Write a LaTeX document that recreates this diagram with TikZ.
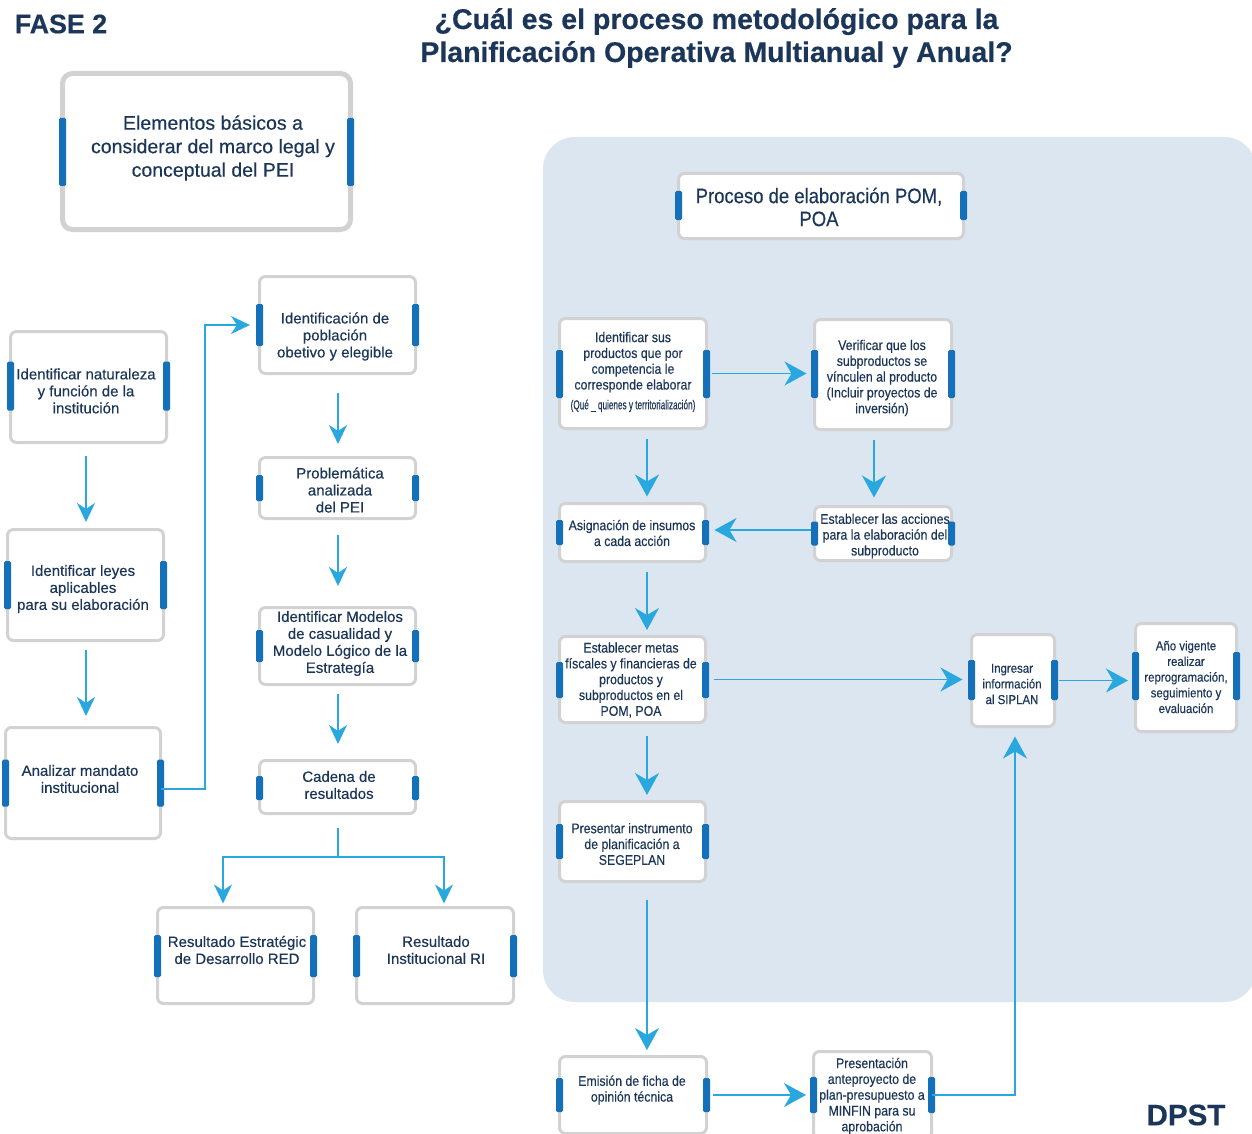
\documentclass[tikz,border=0pt]{standalone}
\usepackage{fontspec}
\setmainfont{Liberation Sans}[FakeBold=0.35]
\newfontfamily\cond{Liberation Sans}[FakeStretch=0.88,FakeBold=0.35]
\newfontfamily\vcond{Liberation Sans}[FakeStretch=0.63,FakeBold=0.3]
\usetikzlibrary{arrows.meta,calc}
\definecolor{navy}{HTML}{1C365A}
\definecolor{barblue}{HTML}{1570BA}
\definecolor{arrowc}{HTML}{29A8E0}
\definecolor{boxgray}{HTML}{D2D2D2}
\definecolor{panel}{HTML}{DCE6F0}
\newcommand\fsz[2]{\fontsize{#1}{#2}\selectfont}
% left x, right x, y centre, half height
\newcommand\bars[4]{%
  \fill[bar] (#1-3.5,#3-#4) rectangle (#1+3.5,#3+#4);
  \fill[bar] (#2-3.5,#3-#4) rectangle (#2+3.5,#3+#4);}
\begin{document}
\begin{tikzpicture}[x=1pt,y=-1pt,
  box/.style={draw=boxgray, line width=3pt, rounded corners=6pt, fill=white, inner sep=0pt, outer sep=0pt},
  bar/.style={fill=barblue, rounded corners=1.5pt},
  txt/.style={text=navy, align=center, inner sep=0pt},
  lt/.style={txt, font=\fsz{15}{17}},
  rt/.style={txt, font=\cond\fsz{14}{15.8}},
  arrR/.style={draw=arrowc, line width=1.8pt, -{Stealth[length=22pt,width=24pt,inset=7pt]}},
  arrL/.style={draw=arrowc, line width=1.8pt, -{Stealth[length=19pt,width=18pt,inset=6pt]}},
  conn/.style={draw=arrowc, line width=1.8pt}]
\useasboundingbox (0,0) rectangle (1252,1134);
\fill[white] (0,0) rectangle (1252,1134);

% titles
\node[txt, font=\bfseries\fsz{26.8}{30}] (fase) at (61,24) {FASE 2};
\node[txt, font=\bfseries\fsz{28.5}{33}] (title) at (716.5,38) {¿Cuál es el proceso metodológico para la\\Planificación Operativa Multianual y Anual?};
\node[txt, font=\bfseries\fsz{29.6}{32}] (dpst) at (1186,1115) {DPST};

% panel
\fill[panel, rounded corners=32pt] (543,137) rectangle (1256,1002);

% ---------- left part ----------
\node[box, line width=5pt, rounded corners=10pt, minimum width=288pt, minimum height=156pt] (elem) at (206.5,151.5) {};
\bars{62.5}{350.5}{152}{34}
\node[txt, font=\fsz{19.5}{23.5}] (elemt) at (213,148) {Elementos básicos a\\considerar del marco legal y\\conceptual del PEI};

\node[box, minimum width=156pt, minimum height=111pt] (nat) at (88.5,387) {};
\bars{10.5}{166.5}{386}{24.5}
\node[lt] (natt) at (86,391) {Identificar naturaleza\\y función de la\\institución};

\node[box, minimum width=156pt, minimum height=111pt] (ley) at (85.5,585) {};
\bars{7.5}{163.5}{585}{24}
\node[lt] (leyt) at (83,589) {Identificar leyes\\aplicables\\para su elaboración};

\node[box, minimum width=155pt, minimum height=111pt] (ana) at (83,783) {};
\bars{5.5}{160.5}{783}{23.5}
\node[lt] (anat) at (80,779) {Analizar mandato\\institucional};

\node[box, minimum width=156pt, minimum height=97pt] (pob) at (337.5,325) {};
\bars{259.5}{415.5}{325}{21}
\node[lt] (pobt) at (335,336.5) {Identificación de\\población\\obetivo y elegible};

\node[box, minimum width=156pt, minimum height=61pt] (prob) at (337.5,488) {};
\bars{259.5}{415.5}{488}{13}
\node[lt] (probt) at (340,490) {Problemática\\analizada\\del PEI};

\node[box, minimum width=156pt, minimum height=77pt] (mod) at (337.5,646) {};
\bars{259.5}{415.5}{646}{16}
\node[lt] (modt) at (340,643.5) {Identificar Modelos\\de casualidad y\\Modelo Lógico de la\\Estrategía};

\node[box, minimum width=156pt, minimum height=53pt] (cad) at (337.5,787) {};
\bars{259.5}{415.5}{788}{12}
\node[lt] (cadt) at (339,785) {Cadena de\\resultados};

\node[box, minimum width=156pt, minimum height=96pt] (red) at (235.5,955.5) {};
\bars{157.5}{313.5}{956}{21}
\node[lt] (redt) at (237,950) {Resultado Estratégic\\de Desarrollo RED};

\node[box, minimum width=157pt, minimum height=96pt] (ri) at (435,955.5) {};
\bars{356.5}{513.5}{956}{21}
\node[lt] (rit) at (436,950) {Resultado\\Institucional RI};

% left connectors
\draw[arrL, shorten <=13.5pt, shorten >=7.5pt] ([xshift=-2.5pt]nat.south) -- ([xshift=0.5pt]ley.north);
\draw[arrL, shorten <=9.5pt, shorten >=11.5pt] ([xshift=0.5pt]ley.south) -- ([xshift=3pt]ana.north);
\draw[arrL, shorten >=9.5pt] ([yshift=-6pt]ana.east) -| ([xshift=-54.5pt]pob.west) -- (pob.west);
\draw[arrL, shorten <=19.5pt, shorten >=13.5pt] ([xshift=0.5pt]pob.south) -- ([xshift=0.5pt]prob.north);
\draw[arrL, shorten <=16.5pt, shorten >=21.5pt] ([xshift=0.5pt]prob.south) -- ([xshift=0.5pt]mod.north);
\draw[arrL, shorten <=9.5pt, shorten >=16.5pt] ([xshift=0.5pt]mod.south) -- ([xshift=0.5pt]cad.north);
\coordinate (split) at (338,857);
\draw[conn, shorten <=14pt] ([xshift=0.5pt]cad.south) -- (split);
\draw[arrL, shorten >=4pt] (split) -| ([xshift=-12.5pt]red.north);
\draw[arrL, shorten >=4pt] (split) -| ([xshift=9pt]ri.north);

% ---------- right part ----------
\node[box, minimum width=285pt, minimum height=65pt] (pom) at (821,206) {};
\bars{678.5}{963.5}{205.5}{14.5}
\node[txt, font=\cond\fsz{21}{23}] (pomt) at (819,207) {Proceso de elaboración POM,\\POA};

\node[box, minimum width=147pt, minimum height=110pt] (prod) at (633,373.5) {};
\bars{559.5}{706.5}{374}{24}
\node[rt] (prodt) at (633,372) {Identificar sus\\productos que por\\competencia le\\corresponde elaborar\\[4pt]{\vcond\fsz{13}{14}(Qué \_ quienes y territorialización)}};

\node[box, minimum width=137pt, minimum height=110pt] (ver) at (883,374.5) {};
\bars{814.5}{951.5}{374}{24}
\node[rt] (vert) at (882,378) {Verificar que los\\subproductos se\\vínculen al producto\\(Incluir proyectos de\\inversión)};

\node[box, minimum width=146pt, minimum height=58pt] (asig) at (632.5,532.5) {};
\bars{559.5}{705.5}{532.5}{12.5}
\node[rt] (asigt) at (632,533) {Asignación de insumos\\a cada acción};

\node[box, minimum width=137pt, minimum height=54pt] (acc) at (883,533.5) {};
\bars{814.5}{951.5}{533.5}{12}
\node[rt] (acct) at (885,536) {Establecer las acciones\\para la elaboración del\\subproducto};

\node[box, minimum width=146pt, minimum height=86pt] (metas) at (632.5,679.5) {};
\bars{559.5}{705.5}{680}{18}
\node[rt] (metast) at (631,680) {Establecer metas\\físcales y financieras de\\productos y\\subproductos en el\\POM, POA};

\node[box, minimum width=146pt, minimum height=80pt] (pres) at (632.5,841.5) {};
\bars{559.5}{705.5}{841.5}{17.5}
\node[rt] (prest) at (632,844) {Presentar instrumento\\de planificación a\\SEGEPLAN};

\node[box, minimum width=83pt, minimum height=92pt] (ing) at (1013,680.5) {};
\bars{971.5}{1054.5}{680}{20}
\node[rt, font=\cond\fsz{13}{15.7}] (ingt) at (1012,684) {Ingresar\\información\\al SIPLAN};

\node[box, minimum width=101pt, minimum height=108pt] (ano) at (1186,677.5) {};
\bars{1135.5}{1236.5}{676}{24}
\node[rt, font=\cond\fsz{13}{15.7}] (anot) at (1186,677) {Año vigente\\realizar\\reprogramación,\\seguimiento y\\evaluación};

\node[box, minimum width=147pt, minimum height=77pt] (emi) at (633,1095) {};
\bars{559.5}{706.5}{1095}{17}
\node[rt] (emit) at (632,1090) {Emisión de ficha de\\opinión técnica};

\node[box, minimum width=118pt, minimum height=87pt] (ant) at (872.5,1095) {};
\bars{813.5}{931.5}{1095}{18}
\node[rt] (antt) at (872,1096) {Presentación\\anteproyecto de\\plan-presupuesto a\\MINFIN para su\\aprobación};

% right connectors
\draw[arrR, shorten <=5pt, shorten >=8pt] (prod.east) -- (prod.east -| ver.west);
\draw[arrR, shorten <=10pt, shorten >=7pt] ([xshift=14pt]prod.south) -- ([xshift=14.5pt]asig.north);
\draw[arrR, shorten <=10pt, shorten >=9pt] ([xshift=-9pt]ver.south) -- ([xshift=-9pt]acc.north);
\draw[arrR, shorten <=4pt, shorten >=9pt] ([yshift=3.5pt]acc.west) -- ([yshift=3.5pt]acc.west -| asig.east);
\draw[arrR, shorten <=10pt, shorten >=6.5pt] ([xshift=14.5pt]asig.south) -- ([xshift=14.5pt]metas.north);
\draw[arrR, shorten <=8pt, shorten >=9pt] (metas.east) -- (metas.east -| ing.west);
\draw[arrR, shorten <=4pt, shorten >=7.5pt] (ing.east) -- (ing.east -| ano.west);
\draw[arrR, shorten <=13pt, shorten >=6.5pt] ([xshift=14.5pt]metas.south) -- ([xshift=14.5pt]pres.north);
\draw[arrR, shorten <=18pt, shorten >=6.5pt] ([xshift=14.5pt]pres.south) -- ([xshift=14pt]emi.north);
\draw[arrR, shorten <=6.5pt, shorten >=7.5pt] (emi.east) -- (emi.east -| ant.west);
\draw[arrR, shorten >=10pt] (ant.east) -| ([xshift=2pt]ing.south);
\end{tikzpicture}
\end{document}
